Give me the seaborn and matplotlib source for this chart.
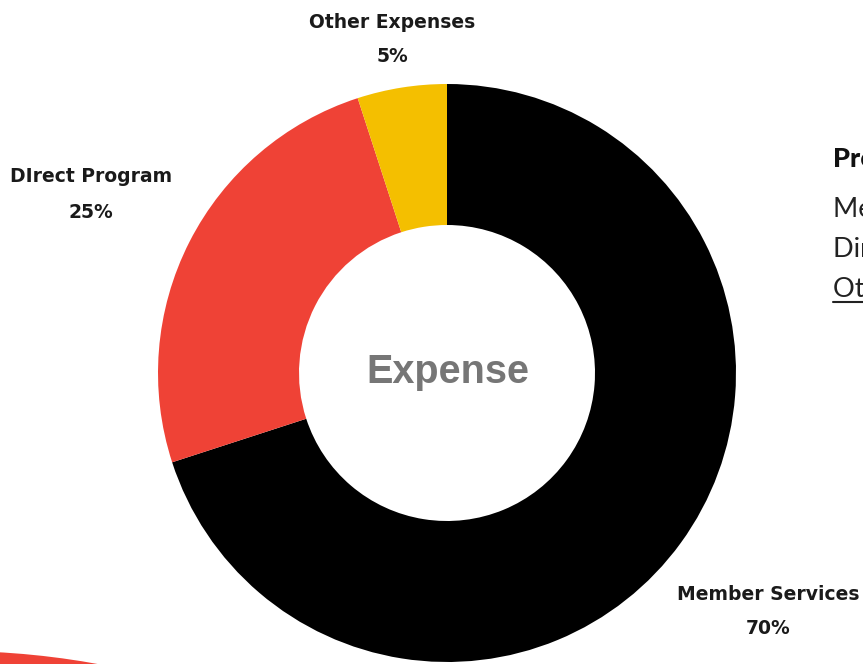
import numpy as np
import matplotlib
matplotlib.use("Agg")
import matplotlib.pyplot as plt
import seaborn as sns
from matplotlib.patches import Circle

# datos del grafico
categorias = ["Member Services", "DIrect Program", "Other Expenses"]
valores = [70, 25, 5]
colores = ["#000000", "#EF4236", "#F4BF00"]
titulo_centro = "Expense"
leyenda_titulo = "Program Expenses"
leyenda_items = ["Member Services", "Direct Program", "Other Expenses"]

sns.set_theme(style="white")
plt.rcParams["font.family"] = ["DejaVu Sans"]

W, H = 863, 664
fig = plt.figure(figsize=(W / 100, H / 100), dpi=100)
ax = fig.add_axes([0, 0, 1, 1])


def yy(y):
    # coordenada de imagen -> coordenada de datos
    return H - y


# forma roja decorativa abajo a la izquierda
ax.add_patch(Circle((-46, yy(1451)), 800, color="#EF4236", lw=0, zorder=0))

# dona
cx, cy, r = 447, 373, 289
ax.pie(valores, colors=colores, startangle=90, counterclock=False,
       center=(cx, yy(cy)), radius=r, frame=True,
       wedgeprops=dict(width=r - 148, linewidth=0))
ax.set_xlim(0, W)
ax.set_ylim(0, H)
ax.axis("off")

ax.text(cx + 1, yy(372), titulo_centro, ha="center", va="center",
        fontsize=28.5, fontweight="bold", color="#767676",
        family=["Liberation Sans", "DejaVu Sans"])

# etiquetas
pos_etiquetas = [(768, 594), (91, 177), (392, 22)]
for cat, val, (x, y) in zip(categorias, valores, pos_etiquetas):
    ax.text(x, yy(y), cat, ha="center", va="center", fontsize=13.5,
            fontweight="bold", color="#1a1a1a")
    ax.text(x, yy(y + 35), f"{val}%", ha="center", va="center", fontsize=13.5,
            fontweight="bold", color="#1a1a1a")

# texto recortado a la derecha
ax.text(833, yy(167), leyenda_titulo, ha="left", va="baseline", fontsize=19.5,
        fontweight="black", color="#111111", family=["Lato", "DejaVu Sans"])
for item, yb in zip(leyenda_items, [217, 257, 297]):
    ax.text(833, yy(yb), item, ha="left", va="baseline", fontsize=19.5,
            color="#222222", family=["Lato", "DejaVu Sans"])
ax.plot([833, W], [yy(302), yy(302)], color="#222222", lw=1.5)

fig.savefig("out.png", dpi=100)
